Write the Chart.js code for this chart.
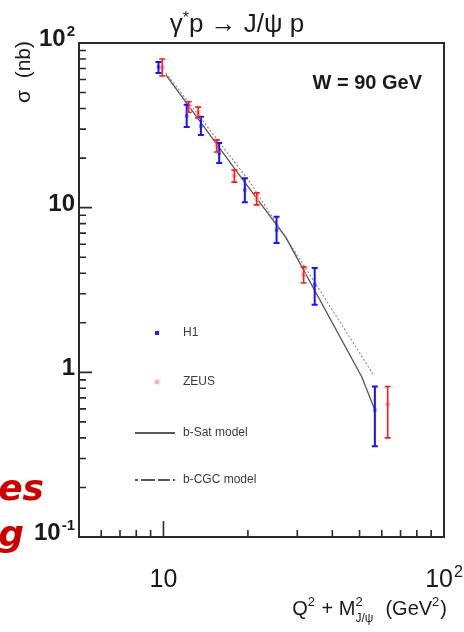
<!DOCTYPE html>
<html>
<head>
<meta charset="utf-8">
<script src="https://cdn.jsdelivr.net/npm/chart.js@4.4.1/dist/chart.umd.min.js"></script>
<style>
  html, body { margin: 0; padding: 0; background: #fff; }
  canvas { display: block; }
</style>
</head>
<body>
<canvas id="chart" width="464" height="632"></canvas>
<script>
// H1 data (W = 90 GeV)
const h1X = [9.6, 12.1, 13.6, 15.8, 19.5, 25.3, 34.6, 56.7];
const h1Y = [71.5, 36.0, 31.3, 21.5, 12.8, 7.3, 3.4, 0.59];
const h1Hi = [76.7, 42.1, 35.6, 24.7, 15.1, 8.8, 4.3, 0.82];
const h1Lo = [65.8, 30.9, 27.6, 18.7, 10.8, 6.1, 2.57, 0.356];

// ZEUS data
const zeusX = [9.9, 12.3, 13.3, 15.5, 17.9, 21.5, 31.6, 63];
const zeusY = [71, 41, 37.8, 23.7, 15.6, 11.3, 3.9, 0.64];
const zeusHi = [80, 44, 40.8, 25.8, 16.9, 12.3, 4.37, 0.82];
const zeusLo = [63, 38, 35.1, 21.8, 14.3, 10.4, 3.49, 0.40];

// model curves
const satX = [10.2, 19.0, 27.3, 50.9, 56.7];
const satY = [64, 15.1, 6.6, 0.94, 0.59];
const cgcX = [10.2, 20.1, 35.0, 56.2];
const cgcY = [65.8, 14.7, 3.42, 0.96];

// axes
const yTickValues = [0.1, 1, 10, 100];
const yTickLabels = [['10', '-1'], ['1', ''], ['10', ''], ['10', '2']];
const xTickValues = [10, 100];
const xTickLabels = [['10', ''], ['10', '2']];
const legendLabels = ['H1', 'ZEUS', 'b-Sat model', 'b-CGC model'];

const FONT = 'px "Liberation Sans", Arial, sans-serif';

function pts(xs, ys) {
  return xs.map((x, i) => ({ x: x, y: ys[i] }));
}

// label with an optional superscript, aligned 'right' or 'center'
function supText(ctx, base, sup, x, y, size, align, weight) {
  const small = Math.round(size * 0.62);
  ctx.font = weight + ' ' + size + FONT;
  const wb = ctx.measureText(base).width;
  ctx.font = weight + ' ' + small + FONT;
  const ws = sup ? ctx.measureText(sup).width + 1 : 0;
  let x0 = x;
  if (align === 'right') x0 = x - wb - ws;
  if (align === 'center') x0 = x - (wb + ws) / 2;
  ctx.textAlign = 'left';
  ctx.textBaseline = 'alphabetic';
  ctx.font = weight + ' ' + size + FONT;
  ctx.fillText(base, x0, y);
  if (sup) {
    ctx.font = weight + ' ' + small + FONT;
    ctx.fillText(sup, x0 + wb + 1, y - size * 0.42);
  }
}

const errorBars = {
  id: 'errorBars',
  afterDatasetsDraw(chart) {
    const ctx = chart.ctx;
    const xs = chart.scales.x, ys = chart.scales.y;
    const sets = [
      { x: h1X, hi: h1Hi, lo: h1Lo, color: '#1414ff', w: 2 },
      { x: zeusX, hi: zeusHi, lo: zeusLo, color: '#ff1a1a', w: 1.6 }
    ];
    ctx.save();
    sets.forEach(s => {
      ctx.strokeStyle = s.color;
      ctx.lineWidth = s.w;
      s.x.forEach((xv, i) => {
        const px = xs.getPixelForValue(xv);
        const top = ys.getPixelForValue(s.hi[i]);
        const bot = ys.getPixelForValue(s.lo[i]);
        ctx.beginPath();
        ctx.moveTo(px, top); ctx.lineTo(px, bot);
        ctx.moveTo(px - 3, top); ctx.lineTo(px + 3, top);
        ctx.moveTo(px - 3, bot); ctx.lineTo(px + 3, bot);
        ctx.stroke();
      });
    });
    ctx.restore();
  }
};

const frame = {
  id: 'frame',
  afterDraw(chart) {
    const ctx = chart.ctx;
    const a = chart.chartArea;
    const xs = chart.scales.x, ys = chart.scales.y;
    ctx.save();
    ctx.strokeStyle = '#2a2a2a';
    ctx.fillStyle = '#1a1a1a';
    ctx.lineWidth = 2;
    ctx.strokeRect(a.left, a.top, a.right - a.left, a.bottom - a.top);

    // ticks, drawn inward
    ctx.lineWidth = 1.6;
    ctx.beginPath();
    [0.1, 1, 10].forEach(d => {
      for (let k = 1; k <= 9; k++) {
        const py = ys.getPixelForValue(d * k);
        const len = k === 1 ? 13 : 7;
        ctx.moveTo(a.left, py); ctx.lineTo(a.left + len, py);
      }
    });
    for (let v = 5; v <= 90; v += (v < 10 ? 1 : 10)) {
      const px = xs.getPixelForValue(v);
      const len = v === 10 ? 16 : 7;
      ctx.moveTo(px, a.bottom); ctx.lineTo(px, a.bottom - len);
    }
    ctx.stroke();

    // tick labels
    yTickValues.forEach((v, i) => {
      const py = ys.getPixelForValue(v);
      supText(ctx, yTickLabels[i][0], yTickLabels[i][1], a.left - 4, py + 3, 24, 'right', 'bold');
    });
    xTickValues.forEach((v, i) => {
      const px = xs.getPixelForValue(v);
      supText(ctx, xTickLabels[i][0], xTickLabels[i][1], px, a.bottom + 50, 25, 'center', 'normal');
    });

    // title
    ctx.textAlign = 'left';
    ctx.textBaseline = 'alphabetic';
    ctx.font = '26' + FONT;
    const t1 = 'γ', t2 = 'p → J/ψ p';
    const w1 = ctx.measureText(t1).width;
    const w2 = ctx.measureText(t2).width;
    ctx.font = '16' + FONT;
    const ws = ctx.measureText('*').width;
    let tx = 237 - (w1 + ws + w2) / 2;
    ctx.font = '26' + FONT;
    ctx.fillText(t1, tx, 32);
    ctx.fillText(t2, tx + w1 + ws, 32);
    ctx.font = '16' + FONT;
    ctx.fillText('*', tx + w1, 23);

    // W label
    ctx.font = 'bold 20' + FONT;
    ctx.textAlign = 'right';
    ctx.fillText('W = 90 GeV', 422, 89);

    // y title
    ctx.save();
    ctx.translate(30, 72);
    ctx.rotate(-Math.PI / 2);
    ctx.textAlign = 'center';
    ctx.font = '21' + FONT;
    ctx.fillText('σ  (nb)', 0, 0);
    ctx.restore();

    // x title, right aligned: [text, size, dy, subscript]
    const parts = [
      ['Q', 20, 0, ''], ['2', 13, -9, ''], [' + M', 20, 0, ''], ['2', 13, -9, 'J/ψ'],
      ['  (GeV', 20, 0, ''], ['2', 13, -9, ''], [')', 20, 0, '']
    ];
    const widths = parts.map(p => {
      ctx.font = p[1] + FONT;
      let w = ctx.measureText(p[0]).width;
      if (p[3]) {
        ctx.font = '12' + FONT;
        w = Math.max(w, ctx.measureText(p[3]).width);
      }
      return w + (p[1] === 13 ? 1 : 0);
    });
    let cx = 447 - widths.reduce((s, w) => s + w, 0);
    ctx.textAlign = 'left';
    parts.forEach((p, i) => {
      ctx.font = p[1] + FONT;
      ctx.fillText(p[0], cx, 615 + p[2]);
      if (p[3]) {
        ctx.font = '12' + FONT;
        ctx.fillText(p[3], cx, 622);
      }
      cx += widths[i];
    });

    // legend
    ctx.fillStyle = '#3a3a3a';
    ctx.font = '12' + FONT;
    ctx.textAlign = 'left';
    ctx.textBaseline = 'middle';
    const ly = [333, 382, 433, 480];
    legendLabels.forEach((t, i) => ctx.fillText(t, 183, ly[i]));
    ctx.fillStyle = '#2020ff';
    ctx.fillRect(155, ly[0] - 2, 4, 4);
    ctx.fillStyle = '#ffb0b0';
    ctx.beginPath(); ctx.arc(157, ly[1], 2.5, 0, Math.PI * 2); ctx.fill();
    ctx.strokeStyle = '#222';
    ctx.lineWidth = 1.3;
    ctx.beginPath(); ctx.moveTo(135, ly[2]); ctx.lineTo(175, ly[2]); ctx.stroke();
    ctx.setLineDash([3, 3, 14, 3, 12, 3]);
    ctx.beginPath(); ctx.moveTo(135, ly[3]); ctx.lineTo(175, ly[3]); ctx.stroke();
    ctx.setLineDash([]);

    // red slide text leaking in from the left
    ctx.fillStyle = '#cc0000';
    ctx.font = 'italic bold 36px "DejaVu Sans", sans-serif';
    ctx.textAlign = 'right';
    ctx.textBaseline = 'alphabetic';
    ctx.fillText('es', 44, 500);
    ctx.fillText('g', 24, 546);
    ctx.restore();
  }
};

new Chart(document.getElementById('chart'), {
  type: 'scatter',
  data: {
    datasets: [
      {
        label: 'H1', data: pts(h1X, h1Y),
        pointStyle: 'rect', pointRadius: 2.5, backgroundColor: '#7a7aff', borderWidth: 0
      },
      {
        label: 'ZEUS', data: pts(zeusX, zeusY),
        pointStyle: 'circle', pointRadius: 2.5, backgroundColor: '#ffb4b4', borderWidth: 0
      },
      {
        label: 'b-Sat model', data: pts(satX, satY), showLine: true,
        borderColor: '#555', borderWidth: 1.3, pointRadius: 0
      },
      {
        label: 'b-CGC model', data: pts(cgcX, cgcY), showLine: true,
        borderColor: '#888', borderWidth: 1.1, borderDash: [2, 2], pointRadius: 0
      }
    ]
  },
  options: {
    responsive: false,
    animation: false,
    layout: { padding: { left: 79, right: 20, top: 43, bottom: 95 } },
    scales: {
      x: { type: 'logarithmic', min: 5, max: 100, display: false },
      y: { type: 'logarithmic', min: 0.1, max: 100, display: false }
    },
    plugins: { legend: { display: false }, tooltip: { enabled: false } }
  },
  plugins: [errorBars, frame]
});
</script>
</body>
</html>
